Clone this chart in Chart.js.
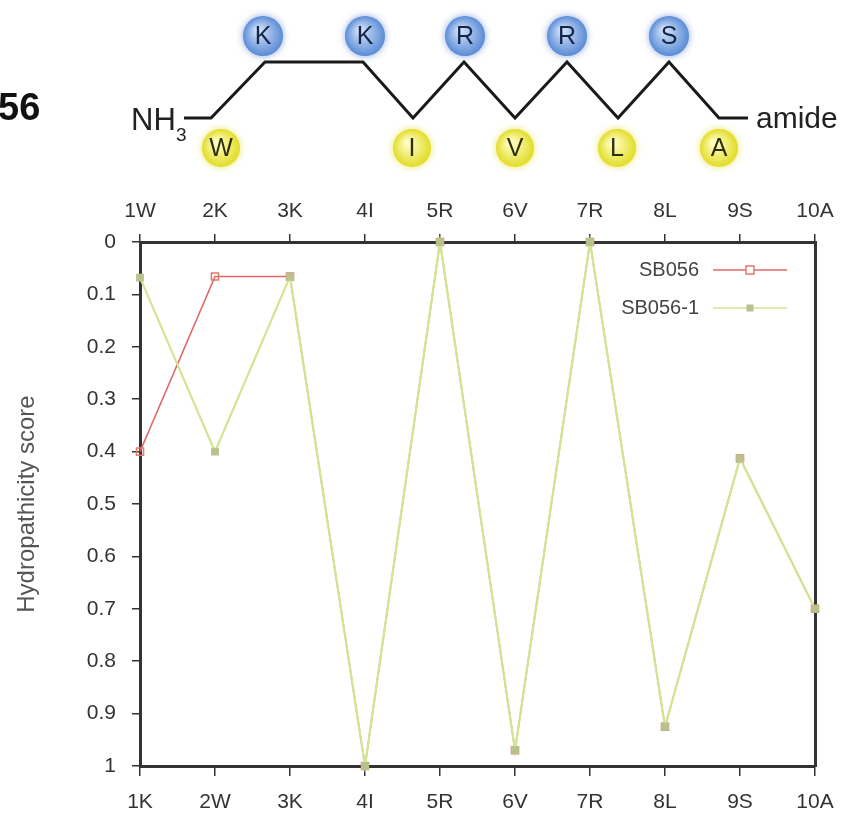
<!DOCTYPE html>
<html>
<head>
<meta charset="utf-8">
<script src="https://cdn.jsdelivr.net/npm/chart.js@4"></script>
<style>
  html, body { margin: 0; padding: 0; background: #fff; }
  canvas { display: block; }
</style>
</head>
<body>
<canvas id="hydroChart" width="852" height="818"></canvas>
<script>
// Residue positions (bottom axis = SB056-1, top axis = SB056)
const positions = ['1K', '2W', '3K', '4I', '5R', '6V', '7R', '8L', '9S', '10A'];
const topPositions = ['1W', '2K', '3K', '4I', '5R', '6V', '7R', '8L', '9S', '10A'];
const yTickLabels = ['0', '0.1', '0.2', '0.3', '0.4', '0.5', '0.6', '0.7', '0.8', '0.9', '1'];

// Hydropathicity score per position
const sb056 = [0.40, 0.066, 0.066, 1.0, 0.0, 0.97, 0.0, 0.925, 0.413, 0.70];
const sb056_1 = [0.068, 0.40, 0.066, 1.0, 0.0, 0.97, 0.0, 0.925, 0.413, 0.70];

// Peptide sketch above the chart
const upperResidues = ['K', 'K', 'R', 'R', 'S'];
const lowerResidues = ['W', 'I', 'V', 'L', 'A'];

const FONT = "'Liberation Sans', Arial, sans-serif";

function ball(ctx, x, y, r, inner, outer, glow, letter, letterColor) {
    ctx.save();
    ctx.shadowColor = glow;
    ctx.shadowBlur = 7;
    const g = ctx.createRadialGradient(x - r * 0.25, y - r * 0.3, r * 0.1, x, y, r);
    g.addColorStop(0, inner);
    g.addColorStop(1, outer);
    ctx.fillStyle = g;
    ctx.beginPath();
    ctx.arc(x, y, r, 0, Math.PI * 2);
    ctx.fill();
    ctx.restore();
    ctx.fillStyle = letterColor;
    ctx.font = '25px ' + FONT;
    ctx.textAlign = 'center';
    ctx.textBaseline = 'middle';
    ctx.fillText(letter, x, y + 1);
}

// draws the peptide scheme + the legend
const decorations = {
    id: 'decorations',
    afterDraw(chart) {
        const ctx = chart.ctx;
        const area = chart.chartArea;

        // --- peptide scheme ---
        ctx.save();
        ctx.fillStyle = '#111';
        ctx.font = 'bold 38px ' + FONT;
        ctx.textAlign = 'left';
        ctx.textBaseline = 'alphabetic';
        ctx.fillText('56', -2, 120);

        ctx.font = '31px ' + FONT;
        ctx.fillStyle = '#222';
        ctx.fillText('NH', 131, 130);
        ctx.font = '19px ' + FONT;
        ctx.fillText('3', 176, 141);
        ctx.font = '30px ' + FONT;
        ctx.fillText('amide', 756, 128);

        ctx.strokeStyle = '#1a1a1a';
        ctx.lineWidth = 3;
        ctx.lineJoin = 'miter';
        ctx.beginPath();
        ctx.moveTo(184, 118);
        ctx.lineTo(211, 118);
        ctx.lineTo(265, 62);
        ctx.lineTo(363, 62);
        ctx.lineTo(413, 118);
        ctx.lineTo(464, 62);
        ctx.lineTo(515, 118);
        ctx.lineTo(567, 62);
        ctx.lineTo(618, 118);
        ctx.lineTo(669, 62);
        ctx.lineTo(719, 118);
        ctx.lineTo(748, 118);
        ctx.stroke();

        const upperX = [263, 365, 465, 567, 669];
        const lowerX = [221, 412, 515, 617, 719];
        upperResidues.forEach((r, i) => ball(ctx, upperX[i], 36, 20, '#cfe0f8', '#5b8cd6', 'rgba(90,130,210,0.7)', r, '#14254a'));
        lowerResidues.forEach((r, i) => ball(ctx, lowerX[i], 148, 19, '#ffffc4', '#e2dc28', 'rgba(230,225,60,0.8)', r, '#2e2e0a'));
        ctx.restore();

        // --- legend inside the plot ---
        ctx.save();
        ctx.font = '20px ' + FONT;
        ctx.textAlign = 'right';
        ctx.textBaseline = 'middle';
        chart.data.datasets.forEach((ds, i) => {
            const y = area.top + 28 + i * 38;
            ctx.fillStyle = '#444';
            ctx.fillText(ds.label, area.right - 116, y);
            ctx.strokeStyle = ds.borderColor;
            ctx.lineWidth = 1.5;
            ctx.beginPath();
            ctx.moveTo(area.right - 102, y);
            ctx.lineTo(area.right - 28, y);
            ctx.stroke();
            const mx = area.right - 65;
            if (ds.pointBackgroundColor === 'transparent') {
                ctx.fillStyle = '#fff';
                ctx.fillRect(mx - 4, y - 4, 8, 8);
                ctx.strokeStyle = ds.pointBorderColor;
                ctx.strokeRect(mx - 4, y - 4, 8, 8);
            } else {
                ctx.fillStyle = ds.pointBackgroundColor;
                ctx.fillRect(mx - 3.5, y - 3.5, 7, 7);
            }
        });
        ctx.restore();
    }
};

const tickFont = { family: FONT, size: 21 };

new Chart(document.getElementById('hydroChart'), {
    type: 'line',
    data: {
        labels: positions,
        datasets: [{
            label: 'SB056',
            data: sb056,
            borderColor: '#e06868',
            borderWidth: 1.5,
            pointStyle: 'rect',
            pointRadius: 5,
            pointBackgroundColor: 'transparent',
            pointBorderColor: '#e07a6a',
            pointBorderWidth: 1.5,
            order: 2,
            clip: false
        }, {
            label: 'SB056-1',
            data: sb056_1,
            borderColor: '#d2e593',
            borderWidth: 2.2,
            pointStyle: 'rect',
            pointRadius: 4,
            pointBackgroundColor: '#b9c28c',
            pointBorderColor: '#b9c28c',
            order: 1,
            clip: false
        }]
    },
    options: {
        responsive: false,
        devicePixelRatio: 1,
        animation: false,
        layout: { padding: { left: 0, right: 37, top: 0, bottom: 0 } },
        plugins: {
            legend: { display: false },
            tooltip: { enabled: false }
        },
        scales: {
            x: {
                type: 'category',
                position: 'bottom',
                offset: false,
                grid: { drawOnChartArea: false, color: '#333', lineWidth: 1.5, tickLength: 10 },
                border: { color: '#333', width: 3 },
                ticks: { color: '#333', font: tickFont, padding: 14, maxRotation: 0, autoSkip: false },
                afterFit(scale) { scale.height = 52; }
            },
            x2: {
                type: 'category',
                position: 'top',
                labels: topPositions,
                offset: false,
                grid: { drawOnChartArea: false, color: '#333', lineWidth: 1.5, tickLength: 8 },
                border: { color: '#333', width: 3 },
                ticks: { color: '#333', font: tickFont, padding: 10, maxRotation: 0, autoSkip: false },
                afterFit(scale) { scale.height = 242; }
            },
            y: {
                position: 'left',
                min: 0,
                max: 1,
                reverse: true,
                grid: { drawOnChartArea: false, color: '#333', lineWidth: 1.5, tickLength: 8 },
                border: { color: '#333', width: 3 },
                ticks: {
                    stepSize: 0.1,
                    color: '#333',
                    font: tickFont,
                    padding: 16,
                    callback: (v) => yTickLabels[Math.round(v * 10)]
                },
                title: {
                    display: true,
                    text: 'Hydropathicity score',
                    color: '#555',
                    font: { family: FONT, size: 24 },
                    padding: { top: 13, bottom: 0 }
                },
                afterFit(scale) { scale.width = 140; }
            },
            y2: {
                position: 'right',
                min: 0,
                max: 1,
                reverse: true,
                grid: { drawOnChartArea: false, drawTicks: false },
                border: { color: '#333', width: 3 },
                ticks: { display: false },
                afterFit(scale) { scale.width = 0; }
            }
        }
    },
    plugins: [decorations]
});
</script>
</body>
</html>
